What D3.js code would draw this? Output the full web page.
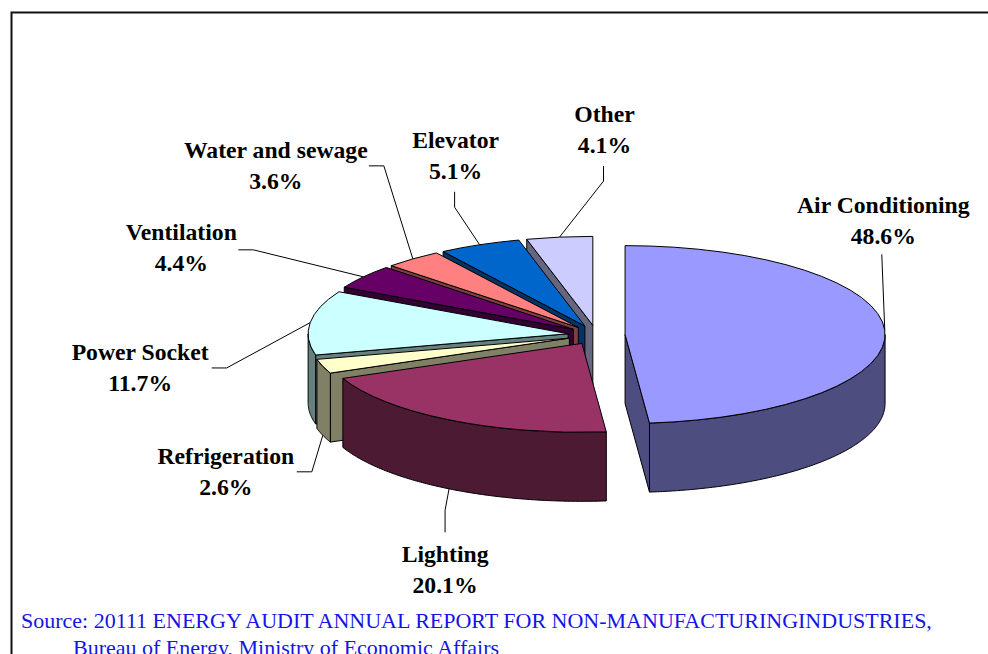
<!DOCTYPE html>
<html>
<head>
<meta charset="utf-8">
<script src="https://cdn.jsdelivr.net/npm/d3@7"></script>
<style>
    html, body { margin: 0; padding: 0; background: #fff; overflow: hidden; }
    svg { display: block; }
    .label { font-family: "Liberation Serif", serif; font-weight: bold; font-size: 23.7px; fill: #000; text-anchor: middle; }
    .source { font-family: "Liberation Serif", serif; font-size: 22px; fill: #1414e6; }
    .leader { fill: none; stroke: #000; stroke-width: 1; }
    .face { stroke: #000; stroke-width: 1; stroke-linejoin: round; vector-effect: non-scaling-stroke; }
</style>
</head>
<body>
<script>
'use strict';

// chart data, clockwise from 12 o'clock
const categories = ["Air Conditioning", "Lighting", "Refrigeration", "Power Socket", "Ventilation", "Water and sewage", "Elevator", "Other"];
const shares = [48.6, 20.1, 2.6, 11.7, 4.4, 3.6, 5.1, 4.1];
const sliceColors = ["#9999ff", "#993366", "#ffffcc", "#ccffff", "#660066", "#ff8080", "#0066cc", "#ccccff"];
const sourceLines = ["Source: 20111 ENERGY AUDIT ANNUAL REPORT FOR NON-MANUFACTURINGINDUSTRIES,", "Bureau of Energy, Ministry of Economic Affairs"];

// leader line bends and label centres, as offsets from the point where the leader leaves the slice
const leaderKnees = [[-3, -76], [-4, 21.5], [-11, 36.5], [-83.5, 45.3], [-110, -27], [-29, -93], [-25, -37.5], [44, -56]];
const leaderTails = [[-3, -76], [-4, 43.5], [-26, 36.5], [-98.5, 45.3], [-125, -27], [-44, -93], [-25, -53], [44, -71]];
const labelOffsets = [[-1.5, -117.5], [-4, 73.5], [-97, 28.5], [-170, 37.3], [-182, -37], [-137, -101], [-24, -97], [45, -115]];

const width = 988, height = 654;
const centerX = 596.5, centerY = 335;
const radius = 260, tilt = 0.342, depth = 69, explode = 28.6;
const lineGap = 31;

const svg = d3.select("body").append("svg")
    .attr("width", width)
    .attr("height", height);

// frame, open on the right and bottom
svg.append("path")
    .attr("d", "M11.5," + height + "V12.5H" + width)
    .attr("fill", "none")
    .attr("stroke", "#111")
    .attr("stroke-width", 2);

const slices = d3.pie().sort(null)(shares).map((d, i) => {
    const mid = (d.startAngle + d.endAngle) / 2;
    return {
        index: i,
        startAngle: d.startAngle,
        endAngle: d.endAngle,
        mid: mid,
        apexX: centerX + explode * Math.sin(mid),
        apexY: centerY - explode * tilt * Math.cos(mid)
    };
});

// point on the rim of a slice, on the top face
function rim(s, angle) {
    return [s.apexX + radius * Math.sin(angle), s.apexY - radius * tilt * Math.cos(angle)];
}

function wallColor(color) {
    let c = d3.rgb(color);
    return d3.rgb(c.r / 2, c.g / 2, c.b / 2).formatHex();
}

const topArc = d3.arc().innerRadius(0).outerRadius(radius);
const polygon = d3.line();

// curved outer wall, only the part on the near side of the pie
function outerWall(s) {
    let a0 = Math.max(s.startAngle, Math.PI / 2);
    let a1 = Math.min(s.endAngle, Math.PI * 1.5);
    if (a1 <= a0) return null;
    let steps = Math.ceil((a1 - a0) / 0.01);
    let top = d3.range(steps + 1).map(j => rim(s, a0 + (a1 - a0) * j / steps));
    let bottom = top.map(p => [p[0], p[1] + depth]).reverse();
    return polygon(top.concat(bottom)) + "Z";
}

// flat cut face along one radial edge of a slice
function cutWall(s, angle) {
    let p = rim(s, angle);
    return polygon([[s.apexX, s.apexY], p, [p[0], p[1] + depth], [s.apexX, s.apexY + depth]]) + "Z";
}

// back to front, the order in which the slices overlap
const drawOrder = [7, 6, 5, 4, 3, 2, 1, 0];

drawOrder.forEach(i => {
    let s = slices[i];
    let g = svg.append("g").attr("class", "slice");
    let shade = wallColor(sliceColors[i]);

    if (Math.sin(s.startAngle) < 0) {
        g.append("path").attr("class", "face").attr("fill", shade).attr("d", cutWall(s, s.startAngle));
    }
    if (Math.sin(s.endAngle) > 0) {
        g.append("path").attr("class", "face").attr("fill", shade).attr("d", cutWall(s, s.endAngle));
    }
    let wall = outerWall(s);
    if (wall) {
        g.append("path").attr("class", "face").attr("fill", shade).attr("d", wall);
    }
    g.append("path")
        .attr("class", "face")
        .attr("fill", sliceColors[i])
        .attr("transform", "translate(" + s.apexX + "," + s.apexY + ") scale(1," + tilt + ")")
        .attr("d", topArc({ startAngle: s.startAngle, endAngle: s.endAngle }));
});

// leader lines and labels
slices.forEach((s, i) => {
    let p = rim(s, s.mid);
    // slices whose middle is on the near side get their leader from the bottom of the wall
    let onNearSide = Math.cos(s.mid) < 0 || (s.mid > Math.PI && s.mid < Math.PI * 1.5);
    let anchor = [p[0], p[1] + (onNearSide ? depth : 0)];
    let at = o => [anchor[0] + o[0], anchor[1] + o[1]];

    svg.append("path")
        .attr("class", "leader")
        .attr("d", polygon([anchor, at(leaderKnees[i]), at(leaderTails[i])]));

    let pos = at(labelOffsets[i]);
    let text = svg.append("text")
        .attr("class", "label")
        .attr("x", pos[0])
        .attr("y", pos[1]);
    text.append("tspan").attr("x", pos[0]).text(categories[i]);
    text.append("tspan").attr("x", pos[0]).attr("dy", lineGap).text(shares[i].toFixed(1) + "%");
});

// source note, the second line is cut by the bottom of the page
svg.append("text").attr("class", "source").attr("x", 21).attr("y", 628).text(sourceLines[0]);
svg.append("text").attr("class", "source").attr("x", 73).attr("y", 655).text(sourceLines[1]);
</script>
</body>
</html>
